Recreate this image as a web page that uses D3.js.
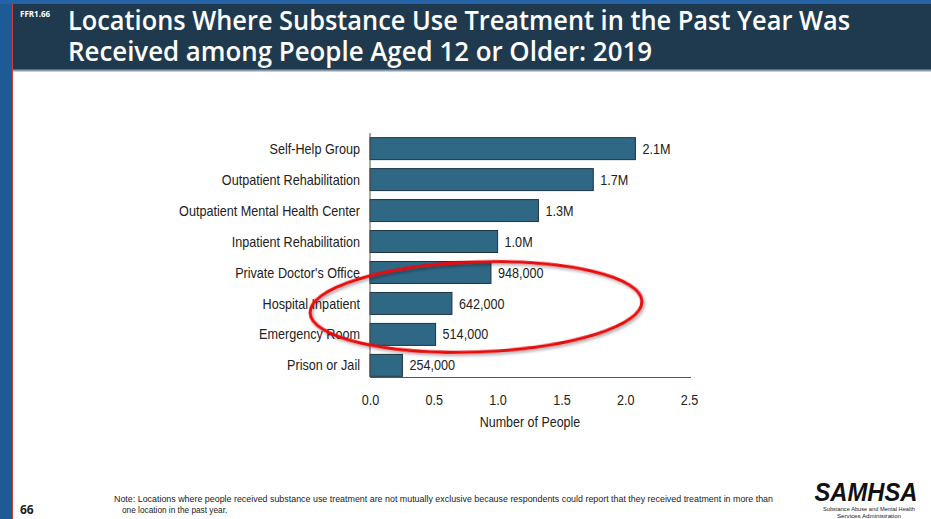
<!DOCTYPE html>
<html><head><meta charset="utf-8">
<script src="https://cdn.jsdelivr.net/npm/d3@7"></script>
<style>body{margin:0;background:#fff;}svg{display:block;}</style>
</head><body>
<script>
const categories = ["Self-Help Group","Outpatient Rehabilitation","Outpatient Mental Health Center","Inpatient Rehabilitation","Private Doctor's Office","Hospital Inpatient","Emergency Room","Prison or Jail"];
const values = [2.08, 1.75, 1.32, 1.0, 0.948, 0.642, 0.514, 0.254];
const valueLabels = ["2.1M","1.7M","1.3M","1.0M","948,000","642,000","514,000","254,000"];
const xTicks = [0, 0.5, 1.0, 1.5, 2.0, 2.5];
const titleLines = ["Locations Where Substance Use Treatment in the Past Year Was","Received among People Aged 12 or Older: 2019"];

const W = 931, H = 519;
const svg = d3.select("body").append("svg").attr("width", W).attr("height", H);
const narrow = "'Liberation Sans','Arial',sans-serif";
function condense(sel, f) {
  sel.each(function(){
    const w = this.getComputedTextLength();
    d3.select(this).attr("textLength", w*f).attr("lengthAdjust","spacingAndGlyphs");
  });
}

// frame
svg.append("rect").attr("x",0).attr("y",0).attr("width",W).attr("height",H).attr("fill","#fff");
svg.append("rect").attr("x",0).attr("y",0).attr("width",12).attr("height",H).attr("fill","#1e5a96");
svg.append("rect").attr("x",0).attr("y",0).attr("width",W).attr("height",4).attr("fill","#2563a6");
svg.append("rect").attr("x",12).attr("y",4).attr("width",W-12).attr("height",66).attr("fill","#1f3a4e");
svg.append("rect").attr("x",12).attr("y",69.5).attr("width",W-12).attr("height",2).attr("fill","#8e9fab");
svg.append("rect").attr("x",12).attr("y",4).attr("width",1).attr("height",H).attr("fill","#c84040");

svg.append("text").attr("x",20).attr("y",17).attr("fill","#fff").attr("font-family","'Open Sans',sans-serif")
  .attr("font-weight","bold").attr("font-size",8).text("FFR1.66");
const title = svg.append("text").attr("fill","#fff")
  .attr("font-family","'Open Sans',sans-serif").attr("font-weight",600).attr("font-size",27);
titleLines.forEach((t,i)=>{
  title.append("tspan").attr("x",68).attr("y",30+i*31)
    .attr("textLength", i===0 ? 782 : 584).attr("lengthAdjust","spacingAndGlyphs").text(t);
});

// chart
const x0 = 370, x1 = 689, yTop = 133, yBot = 381;
const x = d3.scaleLinear().domain([0,2.5]).range([x0,x1]);
const y = d3.scaleBand().domain(categories).range([yTop, yBot]).paddingInner(0.29).paddingOuter(0.15);

const g = svg.append("g");
g.selectAll("rect.bar").data(categories).join("rect").attr("class","bar")
  .attr("x", x(0)).attr("y", d=>y(d)).attr("height", y.bandwidth())
  .attr("width", (d,i)=>x(values[i])-x(0))
  .attr("fill","#2e6885").attr("stroke","#1d3442").attr("stroke-width",1);

const cats = g.selectAll("text.cat").data(categories).join("text").attr("class","cat")
  .attr("x", 360).attr("y", d=>y(d)+y.bandwidth()/2).attr("dy","0.35em")
  .attr("text-anchor","end").attr("font-family",narrow).attr("font-size",14.5).attr("fill","#222")
  .text(d=>d);
condense(cats, 0.87);

const vals = g.selectAll("text.val").data(categories).join("text").attr("class","val")
  .attr("x", (d,i)=>x(values[i])+7).attr("y", d=>y(d)+y.bandwidth()/2).attr("dy","0.35em")
  .attr("font-family",narrow).attr("font-size",14.5).attr("fill","#222")
  .text((d,i)=>valueLabels[i]);
condense(vals, 0.87);

// axes
const yAx = svg.append("g").attr("transform",`translate(${x0},0)`)
  .call(d3.axisLeft(y).tickSize(0).tickFormat(""));
yAx.select(".domain").attr("stroke","#555").attr("d",`M0,${yTop}V${377}`);
const xAx = svg.append("g").attr("transform","translate(0,377)")
  .call(d3.axisBottom(x).tickValues(xTicks).tickSize(0).tickPadding(18).tickFormat(d3.format(".1f")));
xAx.select(".domain").attr("stroke","#555").attr("d",`M${x0},0.5H${x1+2}`);
xAx.selectAll("text").attr("font-family",narrow).attr("font-size",14.5).attr("fill","#222");
condense(xAx.selectAll("text"), 0.87);

const xt = svg.append("text").attr("x",530).attr("y",427).attr("text-anchor","middle")
  .attr("font-family",narrow).attr("font-size",14.5).attr("fill","#222").text("Number of People");
condense(xt, 0.86);

// annotation ellipse
const defs = svg.append("defs");
const f = defs.append("filter").attr("id","sh").attr("x","-10%").attr("y","-30%").attr("width","120%").attr("height","160%");
f.append("feDropShadow").attr("dx",1.5).attr("dy",2).attr("stdDeviation",1.5).attr("flood-color","#000").attr("flood-opacity",0.35);
svg.append("ellipse").attr("cx",476).attr("cy",307).attr("rx",166).attr("ry",45)
  .attr("transform","rotate(-2,476,307)")
  .attr("fill","none").attr("stroke","#e8080c").attr("stroke-width",3).attr("filter","url(#sh)");

// footer
svg.append("text").attr("x",20).attr("y",514).attr("font-family","'Open Sans',sans-serif").attr("font-weight","bold")
  .attr("font-size",12).attr("fill","#222").text("66");
svg.append("text").attr("x",114).attr("y",502).attr("font-family",narrow).attr("font-size",9.5).attr("fill","#222")
  .attr("textLength",659).attr("lengthAdjust","spacingAndGlyphs")
  .text("Note: Locations where people received substance use treatment are not mutually exclusive because respondents could report that they received treatment in more than");
const n2 = svg.append("text").attr("x",122).attr("y",513).attr("font-family",narrow).attr("font-size",9.5).attr("fill","#222")
  .text("one location in the past year.");
condense(n2, 0.87);

svg.append("text").attr("x",866).attr("y",501).attr("text-anchor","middle").attr("font-family","'Liberation Sans',sans-serif")
  .attr("font-weight","bold").attr("font-style","italic").attr("font-size",26).attr("fill","#111")
  .attr("textLength",103).attr("lengthAdjust","spacingAndGlyphs").text("SAMHSA");
svg.append("text").attr("x",869).attr("y",511).attr("text-anchor","middle").attr("font-family",narrow)
  .attr("font-size",6).attr("fill","#222").attr("textLength",92).attr("lengthAdjust","spacingAndGlyphs")
  .text("Substance Abuse and Mental Health");
svg.append("text").attr("x",869).attr("y",518).attr("text-anchor","middle").attr("font-family",narrow)
  .attr("font-size",6).attr("fill","#222").attr("textLength",64).attr("lengthAdjust","spacingAndGlyphs")
  .text("Services Administration");
</script>
</body></html>
